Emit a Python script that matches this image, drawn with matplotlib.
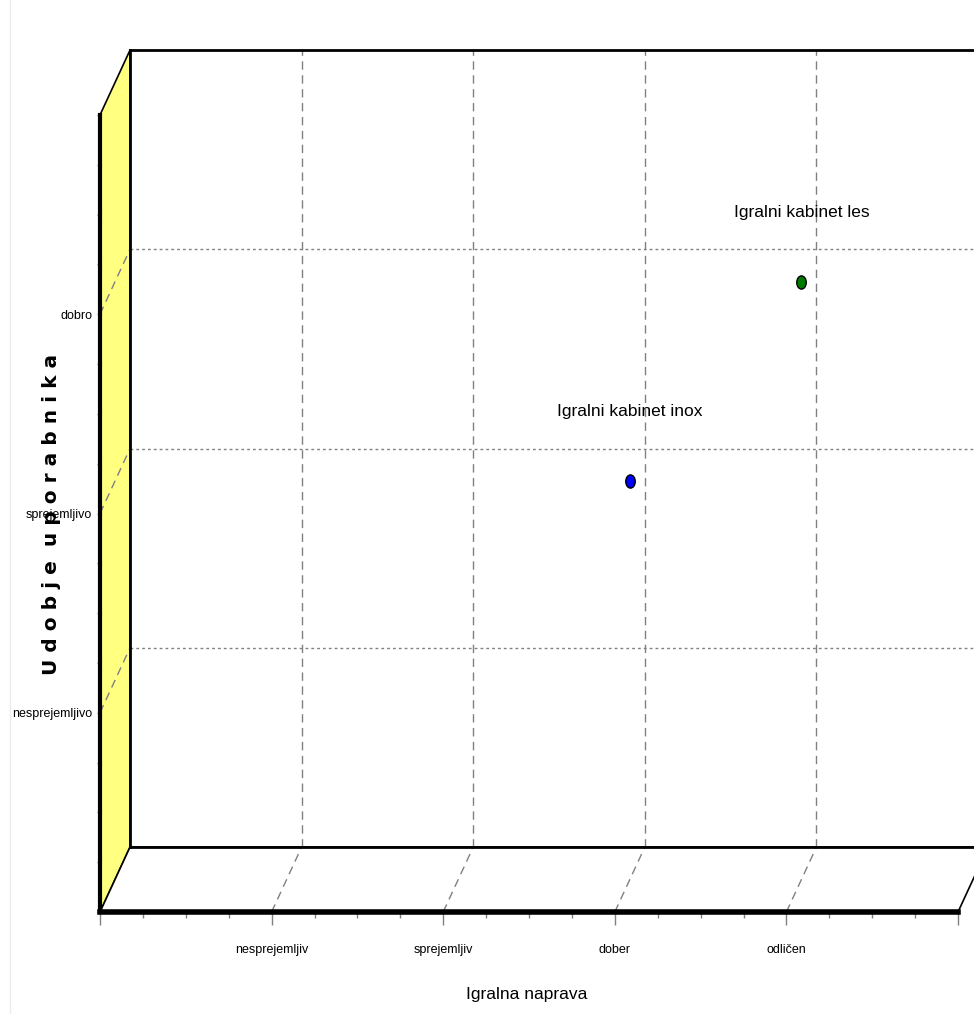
import matplotlib.pyplot as plt
from matplotlib.patches import Polygon
from matplotlib.lines import Line2D
from matplotlib.path import Path
from matplotlib.transforms import Affine2D

# ratings on both axes
x_labels = ['nesprejemljiv', 'sprejemljiv', 'dober', 'odličen']
y_labels = ['nesprejemljivo', 'sprejemljivo', 'dobro']

names = ['Igralni kabinet inox', 'Igralni kabinet les']
device_score = [3, 4]
comfort_score = [2, 3]
colors = ['#0000ff', '#007a00']

X_MAX, Y_MAX = 5, 4
DX, DY = 0.175, 0.326  # depth of the 3d box, data units

FONT = ['Liberation Sans', 'DejaVu Sans']
oval = Path.unit_circle().transformed(Affine2D().scale(0.72, 1.0))

fig = plt.figure(figsize=(9.74, 10.14), dpi=100)
ax = fig.add_axes([100 / 974, 102 / 1014, 858 / 974, 797 / 1014])
ax.set_xlim(0, X_MAX)
ax.set_ylim(0, Y_MAX)
ax.patch.set_visible(False)

# yellow side wall and floor
wall = Polygon([(0, 0), (DX, DY), (DX, Y_MAX + DY), (0, Y_MAX)], closed=True,
               facecolor='#ffff80', edgecolor='black', lw=1.2, clip_on=False, zorder=1)
floor = Polygon([(0, 0), (X_MAX, 0), (X_MAX + DX, DY), (DX, DY)], closed=True,
                facecolor='white', edgecolor='black', lw=1.2, clip_on=False, zorder=1)
ax.add_patch(wall)
ax.add_patch(floor)

# back wall frame
ax.plot([DX, X_MAX + DX + 1], [Y_MAX + DY] * 2, color='black', lw=2, clip_on=False, zorder=3)
ax.plot([DX, X_MAX + DX + 1], [DY] * 2, color='black', lw=2, clip_on=False, zorder=3)
ax.plot([DX, DX], [DY, Y_MAX + DY], color='black', lw=2, clip_on=False, zorder=3)

grid_kw = dict(color='#808080', lw=1, clip_on=False, zorder=2)
for i in range(1, len(x_labels) + 1):
    ax.plot([i + DX, i + DX], [DY, Y_MAX + DY], dashes=(6, 4), **grid_kw)
    ax.plot([i, i + DX], [0, DY], dashes=(6, 4), **grid_kw)
for j in range(1, len(y_labels) + 1):
    ax.plot([DX, X_MAX + DX + 1], [j + DY, j + DY], dashes=(2, 2.2), **grid_kw)
    ax.plot([0, DX], [j, j + DY], dashes=(6, 4), **grid_kw)

# points sit in the middle of the box depth
for name, xv, yv, c in zip(names, device_score, comfort_score, colors):
    ax.plot(xv + DX / 2, yv + DY / 2, marker=oval, ms=9.5, mfc=c, mec='black', mew=1,
            linestyle='none', clip_on=False, zorder=5)
    ax.annotate(name, (xv + DX / 2, yv + DY / 2), xytext=(0, 50), textcoords='offset points',
                ha='center', va='center', fontsize=12.5, family=FONT, zorder=6)

# front axes
for side in ['top', 'right']:
    ax.spines[side].set_visible(False)
ax.spines['bottom'].set_linewidth(4)
ax.spines['left'].set_linewidth(3)
ax.spines['bottom'].set_zorder(4)
ax.spines['left'].set_zorder(4)

ax.set_xticks(range(X_MAX + 1))
ax.set_xticklabels([''] + x_labels + [''], family=FONT, fontsize=9)
ax.set_xticks([i / 4 for i in range(X_MAX * 4 + 1) if i % 4], minor=True)
ax.set_yticks(range(Y_MAX + 1))
ax.set_yticklabels([''] + y_labels + [''], family=FONT, fontsize=9)
ax.set_yticks([i / 4 for i in range(Y_MAX * 4 + 1) if i % 4], minor=True)

ax.tick_params(axis='x', which='major', length=9, width=1, color='#808080', pad=14)
ax.tick_params(axis='x', which='minor', length=4, width=1, color='#808080')
ax.tick_params(axis='y', which='both', length=2.5, width=1, color='#808080', pad=3)

fig.text(527 / 974, 1 - 995 / 1014, 'Igralna naprava', ha='center', va='center',
         fontsize=12.5, family=FONT)
fig.text(52 / 974, 1 - 514 / 1014, 'U d o b j e  u p o r a b n i k a', rotation=90,
         ha='center', va='center', fontsize=14.5, fontweight='bold')

fig.add_artist(Line2D([10 / 974, 10 / 974], [0, 1], color='#ececec', lw=1))

fig.savefig('out.png', dpi=100)
